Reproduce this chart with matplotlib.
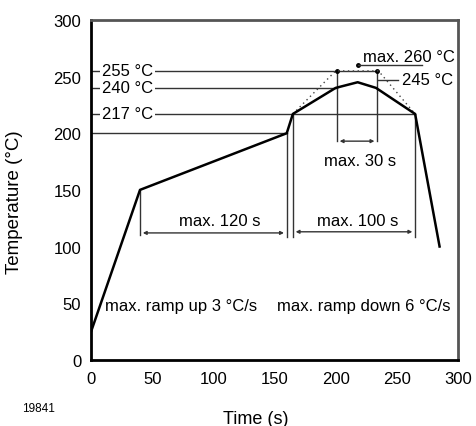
import matplotlib
matplotlib.use("Agg")
import matplotlib.pyplot as plt

plt.rcParams['font.family'] = ['Liberation Sans', 'DejaVu Sans']

# reflow profile (time s, temperature °C)
profile_t = [0, 40, 160, 165, 200, 218, 233, 265, 285]
profile_T = [25, 150, 200, 217, 240, 245, 240, 217, 100]

# upper limit envelope (dotted)
limit_t = [165, 200, 235, 265]
limit_T = [217, 255, 255, 217]

# reference levels and windows
level_T = [255, 240, 217]
level_end = [234, 201, 265]
level_labels = ['255 °C', '240 °C', '217 °C']
peak_T = 260
peak_t = 218
window30 = (201, 234)
window120 = (40, 160)
window100 = (165, 265)

xticks = [0, 50, 100, 150, 200, 250, 300]
yticks = [0, 50, 100, 150, 200, 250, 300]

fs = 12
fig = plt.figure(figsize=(4.77, 4.27), dpi=100)
ax = fig.add_axes([0.191, 0.155, 0.769, 0.796])

ax.set_xlim(0, 300)
ax.set_ylim(0, 300)
ax.set_xticks(xticks)
ax.set_yticks(yticks)
ax.tick_params(length=0, labelsize=fs)
ax.tick_params(axis='x', pad=8)
ax.tick_params(axis='y', pad=7)
for side in ['left', 'bottom']:
    ax.spines[side].set_linewidth(2)
    ax.spines[side].set_color('black')
for side in ['top', 'right']:
    ax.spines[side].set_linewidth(2)
    ax.spines[side].set_color('#555555')

lc = '#333333'
# horizontal reference lines with labels
for T, end, lab in zip(level_T, level_end, level_labels):
    ax.plot([0, end], [T, T], color=lc, lw=1)
    ax.text(9, T, lab, fontsize=fs, va='center', ha='left',
            bbox=dict(facecolor='white', edgecolor='none', pad=1.5))
ax.plot([0, 160], [200, 200], color=lc, lw=1)

# vertical window lines
ax.plot([window30[0]] * 2, [255, 193], color=lc, lw=1)
ax.plot([window30[1]] * 2, [255, 193], color=lc, lw=1)
ax.plot(list(window30), [255, 255], 'o', color='black', ms=2.5)
ax.plot([window120[0]] * 2, [150, 110], color=lc, lw=1)
ax.plot([window120[1]] * 2, [200, 108], color=lc, lw=1)
ax.plot([window100[0]] * 2, [217, 108], color=lc, lw=1)
ax.plot([window100[1]] * 2, [217, 108], color=lc, lw=1)

arrow = dict(arrowstyle='<|-|>', color=lc, lw=1, mutation_scale=5)
ax.annotate('', xy=(window30[0], 193), xytext=(window30[1], 193), arrowprops=arrow)
ax.annotate('', xy=(window120[0], 112), xytext=(window120[1], 112), arrowprops=arrow)
ax.annotate('', xy=(window100[0], 113), xytext=(window100[1], 113), arrowprops=arrow)

ax.text(220, 176, 'max. 30 s', fontsize=fs, ha='center', va='center')
ax.text(105, 123, 'max. 120 s', fontsize=fs, ha='center', va='center')
ax.text(218, 123, 'max. 100 s', fontsize=fs, ha='center', va='center')

# peak annotations
ax.plot([peak_t], [peak_T], 'o', color='black', ms=2.5)
ax.plot([peak_t, 271], [peak_T, peak_T], color=lc, lw=1)
ax.text(222, 268, 'max. 260 °C', fontsize=fs, ha='left', va='center')
ax.plot([235, 251], [247, 247], color=lc, lw=1)
ax.text(254, 247, '245 °C', fontsize=fs, ha='left', va='center')

ax.plot(limit_t, limit_T, linestyle=(0, (1, 2.5)), color='#444444', lw=1)
ax.plot(profile_t, profile_T, color='black', lw=1.8)

ax.text(11, 48, 'max. ramp up 3 °C/s', fontsize=fs, ha='left', va='center')
ax.text(152, 48, 'max. ramp down 6 °C/s', fontsize=fs, ha='left', va='center')

ax.set_xlabel('Time (s)', fontsize=13)
ax.set_ylabel('Temperature (°C)', fontsize=13.5)
ax.xaxis.set_label_coords(0.45, -0.148)
ax.yaxis.set_label_coords(-0.185, 0.466)
fig.text(0.046, 0.035, '19841', fontsize=8.5)

fig.savefig('out.png', dpi=100)
